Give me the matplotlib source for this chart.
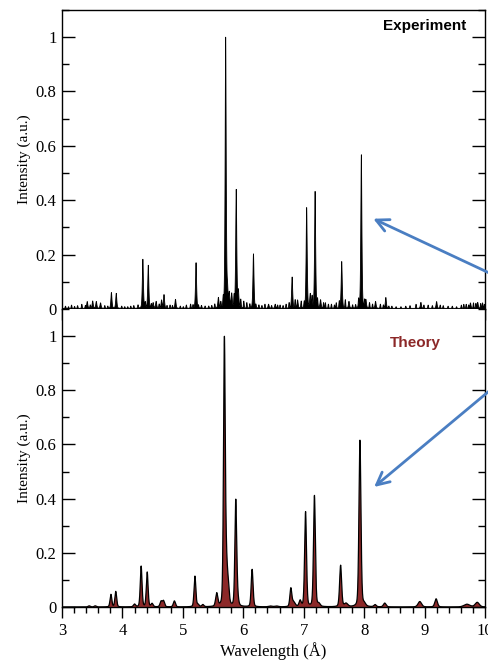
import numpy as np
import matplotlib
matplotlib.use('agg')
import matplotlib.pyplot as plt
from matplotlib.ticker import MultipleLocator

# experiment: line positions (A) and peak intensities
exp_pos = [3.41, 3.50, 3.56, 3.63, 3.81, 3.89, 4.33, 4.42, 4.50, 4.55, 4.64, 4.68,
           4.87, 5.21, 5.58, 5.70, 5.73, 5.76, 5.80, 5.875, 5.91, 6.16, 6.41, 6.52,
           6.80, 6.89, 7.04, 7.10, 7.18, 7.27, 7.62, 7.74, 7.945, 8.02, 8.18, 8.35,
           8.93, 9.19, 9.75, 9.87]
exp_int = [0.025, 0.027, 0.025, 0.02, 0.058, 0.055, 0.18, 0.158, 0.02, 0.025, 0.03, 0.05,
           0.033, 0.168, 0.038, 0.995, 0.06, 0.05, 0.05, 0.435, 0.06, 0.2, 0.015, 0.015,
           0.115, 0.03, 0.37, 0.05, 0.43, 0.03, 0.172, 0.025, 0.565, 0.03, 0.025, 0.04,
           0.022, 0.025, 0.02, 0.022]
# small bumps on the experimental background
exp_bg_pos = [3.05, 3.10, 3.15, 3.20, 3.25, 3.32, 3.38, 3.46, 3.70, 3.75, 3.98, 4.03,
              4.08, 4.13, 4.18, 4.25, 4.37, 4.47, 4.60, 4.73, 4.78, 4.82, 4.95, 5.00,
              5.05, 5.12, 5.16, 5.25, 5.30, 5.36, 5.42, 5.47, 5.52, 5.62, 5.66, 5.84,
              5.95, 6.00, 6.05, 6.10, 6.20, 6.25, 6.30, 6.35, 6.46, 6.56, 6.60, 6.65,
              6.70, 6.75, 6.85, 6.95, 7.00, 7.13, 7.22, 7.32, 7.35, 7.40, 7.45, 7.50,
              7.53, 7.58, 7.68, 7.80, 7.85, 7.90, 8.00, 8.08, 8.13, 8.26, 8.31, 8.40,
              8.45, 8.52, 8.60, 8.68, 8.75, 8.85, 8.98, 9.05, 9.12, 9.25, 9.30, 9.38,
              9.45, 9.52, 9.60, 9.64, 9.68, 9.72, 9.80, 9.84, 9.92, 9.95, 9.98]
exp_bg_int = [0.008, 0.006, 0.012, 0.007, 0.01, 0.015, 0.01, 0.012, 0.01, 0.008, 0.008, 0.006,
              0.006, 0.008, 0.01, 0.012, 0.02, 0.015, 0.015, 0.01, 0.012, 0.01, 0.008, 0.006,
              0.012, 0.015, 0.012, 0.01, 0.01, 0.008, 0.008, 0.01, 0.015, 0.02, 0.03, 0.04,
              0.03, 0.025, 0.02, 0.015, 0.012, 0.012, 0.01, 0.015, 0.01, 0.012, 0.012, 0.01,
              0.015, 0.02, 0.03, 0.025, 0.02, 0.04, 0.03, 0.02, 0.02, 0.015, 0.015, 0.012,
              0.02, 0.025, 0.03, 0.012, 0.012, 0.03, 0.025, 0.02, 0.015, 0.015, 0.012, 0.008,
              0.008, 0.006, 0.006, 0.008, 0.01, 0.015, 0.012, 0.012, 0.01, 0.012, 0.01, 0.008,
              0.008, 0.006, 0.012, 0.015, 0.015, 0.012, 0.02, 0.018, 0.018, 0.02, 0.015]

# theory: line positions, intensities and widths (A)
th_pos = [3.45, 3.55, 3.81, 3.89, 4.20, 4.31, 4.41, 4.49, 4.64, 4.68, 4.86, 5.20,
          5.25, 5.33, 5.56, 5.687, 5.72, 5.75, 5.875, 5.90, 6.146, 6.45, 6.55, 6.786,
          6.83, 6.94, 7.03, 7.177, 7.25, 7.61, 7.70, 7.93, 8.00, 8.18, 8.34, 8.92, 9.19,
          9.70, 9.87]
th_int = [0.004, 0.004, 0.046, 0.057, 0.01, 0.15, 0.128, 0.012, 0.02, 0.022, 0.022, 0.113,
          0.008, 0.008, 0.048, 0.97, 0.13, 0.06, 0.38, 0.04, 0.138, 0.003, 0.003, 0.065,
          0.018, 0.022, 0.35, 0.41, 0.01, 0.153, 0.012, 0.615, 0.01, 0.008, 0.014, 0.02,
          0.03, 0.01, 0.017]
th_wid = [0.018, 0.018, 0.015, 0.015, 0.018, 0.015, 0.015, 0.018, 0.018, 0.018, 0.018, 0.015,
          0.018, 0.018, 0.018, 0.015, 0.018, 0.018, 0.015, 0.018, 0.016, 0.03, 0.03, 0.016,
          0.028, 0.018, 0.016, 0.016, 0.022, 0.017, 0.03, 0.017, 0.025, 0.02, 0.022, 0.03,
          0.022, 0.05, 0.035]

x = np.linspace(3, 10, 8000)


def lorentz(c, h, w):
    return h / (1 + ((x - c) / w) ** 2)


def gauss(c, h, w):
    return h * np.exp(-0.5 * ((x - c) / w) ** 2)


y_exp = np.full_like(x, 0.004)
for c, h in zip(exp_pos, exp_int):
    y_exp += gauss(c, h, 0.01) * 0.5 + lorentz(c, h, 0.008) * 0.5
for c, h in zip(exp_bg_pos, exp_bg_int):
    y_exp += gauss(c, h, 0.006)

y_th = np.zeros_like(x)
for c, h, w in zip(th_pos, th_int, th_wid):
    y_th += gauss(c, h, w) * 0.7 + lorentz(c, h, w) * 0.3

plt.rcParams['font.family'] = ['Liberation Serif', 'DejaVu Serif']

fig = plt.figure(figsize=(4.88, 6.63), dpi=100)
ax1 = fig.add_axes([0.127, 0.534, 0.867, 0.451])
ax2 = fig.add_axes([0.127, 0.0845, 0.867, 0.4495])

ax1.fill_between(x, 0, y_exp, color='black', lw=0.6)
ax2.fill_between(x, 0, y_th, facecolor='#8c2828', edgecolor='none')
ax2.plot(x, y_th, color='black', lw=0.9)

for ax in (ax1, ax2):
    ax.set_xlim(3, 10)
    ax.set_ylim(0, 1.1)
    ax.xaxis.set_major_locator(MultipleLocator(1))
    ax.xaxis.set_minor_locator(MultipleLocator(0.2))
    ax.yaxis.set_major_locator(MultipleLocator(0.2))
    ax.yaxis.set_minor_locator(MultipleLocator(0.1))
    ax.yaxis.set_major_formatter(plt.FuncFormatter(lambda v, p: '%g' % round(v, 2)))
    ax.tick_params(axis='y', which='both', direction='in', left=True, right=True,
                   labelsize=12, pad=4, width=1)
    ax.tick_params(axis='y', which='major', length=9.5)
    ax.tick_params(axis='y', which='minor', length=5)
    ax.tick_params(axis='x', which='both', direction='out', top=False, bottom=True,
                   labelsize=12, width=1)
    ax.tick_params(axis='x', which='major', length=8)
    ax.tick_params(axis='x', which='minor', length=4.5)
    ax.set_ylabel('Intensity (a.u.)', fontsize=11, labelpad=3)
    for s in ax.spines.values():
        s.set_linewidth(1)

ax1.tick_params(axis='x', labelbottom=False)
ax2.spines['top'].set_visible(False)
ax2.set_xlabel('Wavelength (Å)', fontsize=12, labelpad=2)

ax1.text(0.955, 1.04, 'Experiment', transform=ax1.get_yaxis_transform(),
         ha='right', va='center', fontsize=11, fontweight='bold',
         family=['Liberation Sans', 'DejaVu Sans'])
ax2.text(0.835, 0.975, 'Theory', transform=ax2.get_yaxis_transform(),
         ha='center', va='center', fontsize=11, fontweight='bold', color='#8c2828',
         family=['Liberation Sans', 'DejaVu Sans'])

arrow = dict(arrowstyle='->,head_length=0.9,head_width=0.45', color='#4a7ec2', lw=2,
             shrinkA=0, shrinkB=0)
ax1.annotate('', xy=(8.15, 0.332), xytext=(500, 385), textcoords='figure pixels',
             arrowprops=arrow, annotation_clip=False)
ax2.annotate('', xy=(8.165, 0.443), xytext=(500, 281), textcoords='figure pixels',
             arrowprops=arrow, annotation_clip=False)

fig.savefig('out.png', dpi=100)
